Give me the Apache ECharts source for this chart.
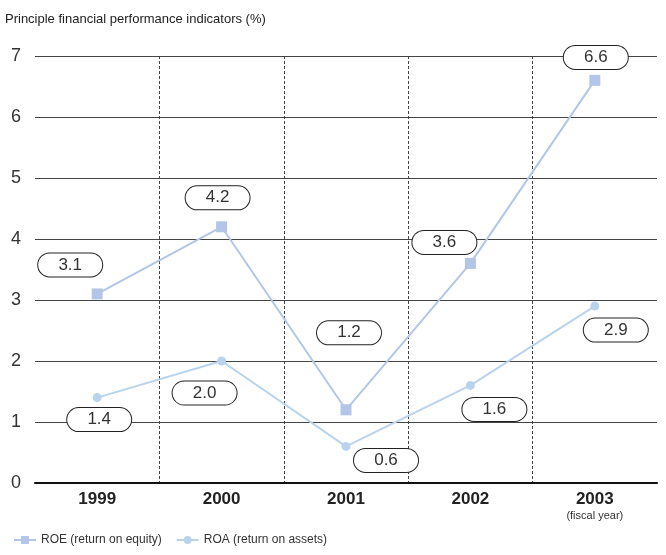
<!DOCTYPE html>
<html><head><meta charset="utf-8">
<script src="https://cdn.jsdelivr.net/npm/echarts@6/dist/echarts.min.js"></script>
<style>html,body{margin:0;padding:0;background:#fff}#c{width:666px;height:555px}</style>
</head><body><div id="c"></div>
<script>
const categories = ['1999', '2000', '2001', '2002', '2003'];
const roeValues = [3.1, 4.2, 1.2, 3.6, 6.6];
const roaValues = [1.4, 2.0, 0.6, 1.6, 2.9];
const yTicks = [0, 1, 2, 3, 4, 5, 6, 7];

// label placement offsets (styling)
const roeOffsets = [[-27, -29], [-4, -29], [3, -77], [-26, -21], [1, -23]];
const roaOffsets = [[2, 22], [-17, 32], [40, 14], [24, 24], [21, 24]];

const FONT = 'Liberation Sans, Arial, sans-serif';
const pill = {
  show: true, position: 'inside', formatter: p => p.value.toFixed(1),
  backgroundColor: '#fff', borderColor: '#222', borderWidth: 1, borderRadius: 12,
  width: 64, height: 23, lineHeight: 23, padding: 0, align: 'center',
  color: '#333', fontSize: 17, fontFamily: FONT
};
function build(vals, offs) {
  return vals.map((v, i) => ({ value: v, label: Object.assign({}, pill, { offset: offs[i] }) }));
}

const chart = echarts.init(document.getElementById('c'), null, { renderer: 'canvas' });
chart.setOption({
  animation: false,
  textStyle: { fontFamily: FONT },
  title: { text: 'Principle financial performance indicators (%)', left: 0, top: 8,
    textStyle: { fontSize: 13, fontWeight: 'normal', color: '#222', fontFamily: FONT } },
  legend: {
    left: 8, bottom: 4, itemWidth: 22, itemHeight: 10, itemGap: 14,
    textStyle: { fontSize: 12, color: '#333', fontFamily: FONT },
    data: ['ROE (return on equity)', 'ROA (return on assets)']
  },
  grid: { left: 35, right: 9, top: 56, bottom: 72 },
  xAxis: {
    type: 'category', data: categories, boundaryGap: true,
    axisLine: { lineStyle: { color: '#111', width: 2 } },
    axisTick: { show: false, interval: 0 },
    axisLabel: {
      interval: 0,
      margin: 8, color: '#222', fontSize: 17, fontWeight: 'bold', fontFamily: FONT,
      formatter: (v, i) => i === categories.length - 1 ? v + '\n{s|(fiscal year)}' : v,
      rich: { s: { fontSize: 11, fontWeight: 'normal', color: '#333', fontFamily: FONT, padding: [2, 0, 0, 0] } }
    },
    splitLine: { show: true, interval: 0, showMinLine: false, showMaxLine: false,
      lineStyle: { color: '#444', type: [3, 2], width: 1 } }
  },
  yAxis: {
    type: 'value', min: yTicks[0], max: yTicks[yTicks.length - 1], interval: 1,
    axisLine: { show: false }, axisTick: { show: false },
    axisLabel: { margin: 14, color: '#333', fontSize: 18, fontFamily: FONT },
    splitLine: { lineStyle: { color: '#444', width: 1 } }
  },
  series: [
    { name: 'ROE (return on equity)', type: 'line', data: build(roeValues, roeOffsets),
      symbol: 'rect', symbolSize: 11, color: '#b3c6e7',
      lineStyle: { color: '#b3c6e7', width: 2 }, itemStyle: { color: '#b3c6e7' }, z: 3 },
    { name: 'ROA (return on assets)', type: 'line', data: build(roaValues, roaOffsets),
      symbol: 'circle', symbolSize: 9, color: '#b9d3ec',
      lineStyle: { color: '#b9d3ec', width: 2 }, itemStyle: { color: '#b9d3ec' }, z: 3 }
  ]
});
</script></body></html>
